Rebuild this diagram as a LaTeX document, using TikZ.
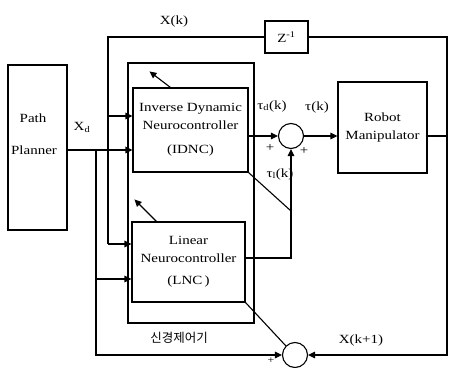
\documentclass[tikz,border=0pt]{standalone}
\usepackage{fontspec}
\setmainfont[FakeStretch=1.2]{Liberation Serif}
\newfontfamily\kfont{Noto Sans CJK KR}
\usetikzlibrary{arrows.meta}
\begin{document}
\begin{tikzpicture}[x=1pt,y=-1pt, >={Triangle[length=7pt,width=6.5pt]}, line width=1.1pt,
  box/.style={draw, inner sep=0pt, align=center, font=\fontsize{12.5}{18}\selectfont},
  sumc/.style={draw, circle, inner sep=0pt, minimum size=25pt},
  lbl/.style={inner sep=0pt, font=\fontsize{12.5}{14}\selectfont}]
\useasboundingbox (0,0) rectangle (450,367);

% blocks
\node[box, minimum width=59pt, minimum height=165pt] (planner) at (37.5,147.5) {};
\node[lbl] (ptext) at (33,118) {Path};
\node[lbl] (pltext) at (34,150) {Planner};
\node[draw, line width=2pt, inner sep=0pt, minimum width=126pt, minimum height=260pt] (neuro) at (191,193) {};
\node[box, minimum width=115pt, minimum height=84pt] (idnc) at (190.5,130) {Inverse Dynamic\\Neurocontroller\\[6pt](IDNC)};
\node[box, minimum width=113pt, minimum height=80pt] (lnc) at (188.5,262) {Linear\\Neurocontroller\\[4pt](LNC\,)};
\node[box, minimum width=43pt, minimum height=32pt] (zinv) at (286.5,37) {Z\textsuperscript{-1}};
\node[box, minimum width=89pt, minimum height=91pt] (robot) at (382.5,127.5) {Robot\\Manipulator};
\node[sumc] (s1) at (291,136) {};
\node[sumc] (s2) at (295,355) {};

% X(k) feed
\coordinate (xkc) at (108,37);
\coordinate (xkm) at (108,116);
\coordinate (xkb) at (108,244);
\draw (zinv.west) -- (xkc) -- (xkb);
\draw[->] (xkm) -- (xkm -| idnc.west);
\draw[->] (xkb) -- (xkb -| lnc.west);

% Xd feed
\coordinate (xdb) at (96,150);
\coordinate (xdl) at (96,279);
\coordinate (xdbot) at (96,355);
\draw[->] (planner.east |- xdb) -- (xdb) -- (xdb -| idnc.west);
\draw[->] (xdb) -- (xdbot) -- (s2.west);
\draw[->] (xdl) -- (xdl -| lnc.west);

% feedback
\coordinate (fbtop) at (447,37);
\coordinate (fbbot) at (447,355);
\draw[->] (zinv.east) -- (fbtop) -- (fbbot) -- (s2.east);
\draw (robot.east |- s1) -- (s1 -| fbtop);

% summing junction
\draw[->] (idnc.east |- s1) -- (s1.west);
\draw[->] (s1.east) -- (s1 -| robot.west);
\coordinate (lout) at (291,258);
\draw[->] (lnc.east |- lout) -- (lout) -- (s1.south);

% learning signals
\coordinate (d1b) at (291,211);
\draw (idnc.south east) -- (d1b);
\draw (lnc.south east) -- (s2.north west);
\draw[->] ([xshift=38pt]idnc.north west) -- ++(-21,-16);
\draw[->] ([xshift=25pt]lnc.north west) -- ++(-22,-22);

% labels
\node[lbl] (lxk) at (174,21) {X(k)};
\node[lbl] (lxd) at (82,127) {X\textsubscript{d}};
\node[lbl] (ltd) at (272,106) {τ\textsubscript{d}(k)};
\node[lbl] (lt) at (317,107) {τ(k)};
\node[lbl] (lp1) at (270,148) {+};
\node[lbl] (lp2) at (304,151) {+};
\node[lbl] (ltl) at (280,174) {τ\textsubscript{l}(k)};
\node[lbl] (lxk1) at (361,340) {X(k+1)};
\node[inner sep=0pt, font=\kfont\fontsize{12.5}{14}\selectfont] (lnn) at (179,338) {신경제어기};
\node[inner sep=0pt, font=\fontsize{10}{12}\selectfont] (lp3) at (271,361) {+};
\end{tikzpicture}
\end{document}
